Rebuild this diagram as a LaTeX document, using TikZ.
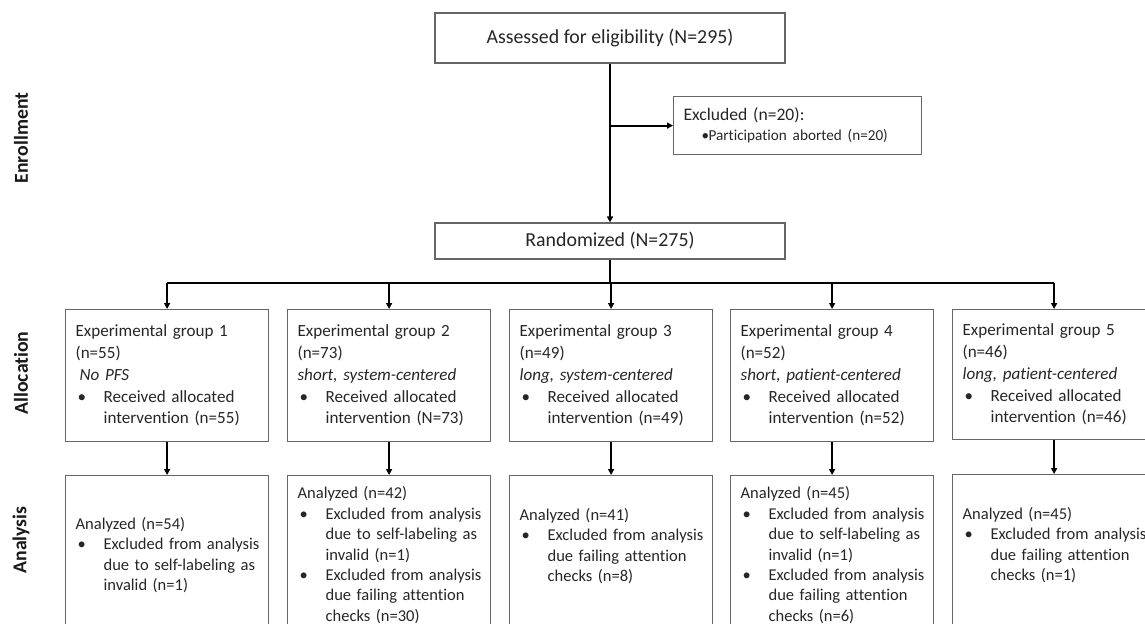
\documentclass[tikz,border=0pt]{standalone}
\usepackage{fontspec}
\setmainfont{Carlito}[Ligatures=NoCommon]
\usetikzlibrary{arrows.meta}
\newdimen\pxu \pxu=0.75pt
\newcommand{\bul}{\hspace*{2\pxu}\makebox[26\pxu][l]{\textbullet}}
\newcommand{\ind}{\hspace*{28\pxu}}
\begin{document}
\begin{tikzpicture}[x=0.75pt,y=-0.75pt,
  boxline/.style={draw=black!60, line width=0.9pt},
  titlebox/.style={boxline, minimum width=262.5pt, inner sep=0pt, font=\fontsize{14.9}{18}\selectfont, text=black!85},
  grpbox/.style={boxline, inner xsep=7.5pt, inner ysep=0pt, text width=137.25pt, align=left, anchor=north west, minimum height=99pt, font=\fontsize{12.8}{16.3}\selectfont, text=black!85},
  anbox/.style={grpbox, minimum height=119.25pt, font=\fontsize{12.4}{15.3}\selectfont},
  conn/.style={line width=1.4pt, black},
  arr/.style={conn, -{Triangle[length=4.5pt, width=4.5pt]}},
  lab/.style={rotate=90, font=\bfseries\fontsize{14.8}{17}\selectfont, text=black!90}
]
\useasboundingbox (0,0) rectangle (1145,624);
\clip (0,0) rectangle (1145,624);

% phase labels
\node[lab] (lenr) at (21,138) {Enrollment};
\node[lab] (lall) at (21,373) {Allocation};
\node[lab] (lana) at (21,540) {Analysis};

% enrollment
\node[titlebox, minimum height=37.5pt] (assess) at (610,38) {Assessed for eligibility (N=295)};
\node[boxline, anchor=north west, minimum width=186pt, minimum height=43.5pt, inner xsep=7.5pt, inner ysep=0pt, text width=171pt, align=left, text=black!85, font=\fontsize{13.2}{15}\selectfont] (excl) at (673,96)
  {Excluded (n=20):\\ \mbox{\fontsize{11.4}{14}\selectfont\hspace*{18\pxu}\makebox[7\pxu][l]{\textbullet}Participation aborted (n=20)}};
\node[titlebox, minimum height=27pt] (rand) at (610,241) {Randomized (N=275)};

\coordinate (br) at (assess.south |- excl.west);
\draw[arr] (assess.south) -- (rand.north);
\draw[arr] (br) -- (excl.west);

% allocation
\node[grpbox] (g1) at (65,309) {Experimental group 1\\ (n=55)\\ \hspace*{4\pxu}\textit{No PFS}\\ \mbox{\bul Received allocated}\\ \mbox{\ind intervention (n=55)}};
\node[grpbox] (g2) at (287,309) {Experimental group 2\\ (n=73)\\ \textit{short, system-centered}\\ \mbox{\bul Received allocated}\\ \mbox{\ind intervention (N=73)}};
\node[grpbox] (g3) at (509,309) {Experimental group 3\\ (n=49)\\ \textit{long, system-centered}\\ \mbox{\bul Received allocated}\\ \mbox{\ind intervention (n=49)}};
\node[grpbox] (g4) at (730,309) {Experimental group 4\\ (n=52)\\ \textit{short, patient-centered}\\ \mbox{\bul Received allocated}\\ \mbox{\ind intervention (n=52)}};
\node[grpbox, minimum height=97.5pt] (g5) at (952,309) {Experimental group 5\\ (n=46)\\ \textit{long, patient-centered}\\ \mbox{\bul Received allocated}\\ \mbox{\ind intervention (n=46)}};

\coordinate (hl) at (610,283);
\draw[conn] (rand.south) -- (hl);
\draw[conn] (g1.north |- hl) -- (g5.north |- hl);
\foreach \g in {g1,g2,g3,g4,g5} {\draw[arr] (\g.north |- hl) -- (\g.north);}

% analysis
\node[anbox] (a1) at (65,475) {Analyzed (n=54)\\ \mbox{\bul Excluded from analysis}\\ \mbox{\ind due to self-labeling as}\\ \mbox{\ind invalid (n=1)}};
\node[anbox] (a2) at (287,475) {Analyzed (n=42)\\ \mbox{\bul Excluded from analysis}\\ \mbox{\ind due to self-labeling as}\\ \mbox{\ind invalid (n=1)}\\ \mbox{\bul Excluded from analysis}\\ \mbox{\ind due failing attention}\\ \mbox{\ind checks (n=30)}};
\node[anbox] (a3) at (509,475) {Analyzed (n=41)\\ \mbox{\bul Excluded from analysis}\\ \mbox{\ind due failing attention}\\ \mbox{\ind checks (n=8)}\\ \mbox{}};
\node[anbox] (a4) at (730,475) {Analyzed (n=45)\\ \mbox{\bul Excluded from analysis}\\ \mbox{\ind due to self-labeling as}\\ \mbox{\ind invalid (n=1)}\\ \mbox{\bul Excluded from analysis}\\ \mbox{\ind due failing attention}\\ \mbox{\ind checks (n=6)}};
\node[anbox] (a5) at (952,474) {Analyzed (n=45)\\ \mbox{\bul Excluded from analysis}\\ \mbox{\ind due failing attention}\\ \mbox{\ind checks (n=1)}\\ \mbox{}};

\foreach \g/\a in {g1/a1,g2/a2,g3/a3,g4/a4,g5/a5} {\draw[arr] (\g.south) -- (\a.north);}
\end{tikzpicture}
\end{document}
